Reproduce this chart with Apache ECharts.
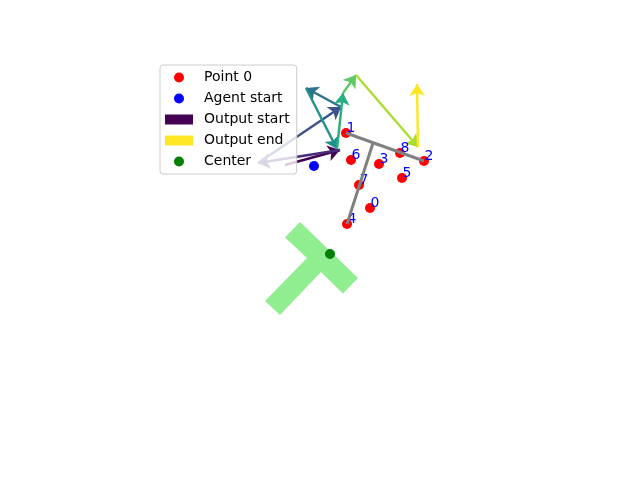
<!DOCTYPE html>
<html><head><meta charset="utf-8">
<script src="https://cdn.jsdelivr.net/npm/echarts@6/dist/echarts.min.js"></script>
<style>html,body{margin:0;padding:0;background:#fff}#c{width:640px;height:480px}</style>
</head><body><div id="c"></div>
<script>
// Keypoints (red) with their labels
const pointLabels = ['0','1','2','3','4','5','6','7','8'];
const pointX = [29.0, 26.6, 34.4, 29.9, 26.7, 32.2, 27.1, 27.9, 32.0];
const pointY = [21.9, 29.4, 26.6, 26.3, 20.3, 24.9, 26.7, 24.2, 27.4];
// Agent start and center
const agentStart = [23.4, 26.1];
const centerPt = [25.0, 17.3];
// Output path (arrows go from point i to point i+1)
const pathX = [20.5, 26.0, 17.8, 26.1, 22.6, 25.7, 26.3, 27.6, 33.8, 33.7];
const pathY = [26.2, 27.7, 26.4, 32.0, 33.9, 27.8, 33.4, 35.2, 28.0, 34.3];
// Gray skeleton segments: [x1, y1, x2, y2]
const skelX1 = [26.6, 29.3];
const skelY1 = [29.4, 28.4];
const skelX2 = [34.4, 26.7];
const skelY2 = [26.6, 20.3];
// Green T-shaped region outline
const shapeX = [22.0, 27.8, 26.3, 24.1, 20.0, 18.5, 22.7, 20.5];
const shapeY = [20.5, 14.9, 13.35, 15.5, 11.2, 12.6, 16.9, 18.95];

const viridis = ['#440154','#472c7a','#3b528b','#2c728e','#21918c','#28ae80','#5ec962','#addc30','#fde725'];

const arrows = [];
for (let i = 0; i < pathX.length - 1; i++) {
  arrows.push({
    coords: [[pathX[i], pathY[i]], [pathX[i+1], pathY[i+1]]],
    lineStyle: { color: viridis[i] }
  });
}
const skel = skelX1.map((x, i) => ({ coords: [[x, skelY1[i]], [skelX2[i], skelY2[i]]] }));
const redPts = pointX.map((x, i) => ({ value: [x, pointY[i]], name: pointLabels[i] }));

const chart = echarts.init(document.getElementById('c'), null, { renderer: 'canvas' });
chart.setOption({
  animation: false,
  backgroundColor: '#ffffff',
  grid: { left: 80, top: 57, width: 500, height: 370 },
  xAxis: { type: 'value', min: 0, max: 50, show: false },
  yAxis: { type: 'value', min: 0, max: 37, show: false },
  legend: {
    orient: 'vertical', left: 160, top: 65,
    padding: [4, 7, 4, 5], itemGap: 4, itemWidth: 28, itemHeight: 10,
    backgroundColor: 'rgba(255,255,255,0.8)', borderColor: '#cccccc', borderWidth: 1, borderRadius: 3,
    selectedMode: false,
    textStyle: { fontFamily: 'DejaVu Sans', fontSize: 14, color: '#000', lineHeight: 17, padding: [0, 0, 0, 6] },
    data: [
      { name: 'Point 0', icon: 'circle' },
      { name: 'Agent start', icon: 'circle' },
      { name: 'Output start', icon: 'rect' },
      { name: 'Output end', icon: 'rect' },
      { name: 'Center', icon: 'circle' }
    ]
  },
  series: [
    {
      type: 'custom', name: 'shape', z: 1, silent: true,
      data: [[0]],
      renderItem: function (params, api) {
        const pts = shapeX.map((x, i) => api.coord([x, shapeY[i]]));
        return { type: 'polygon', shape: { points: pts }, style: { fill: '#90ee90', stroke: null } };
      }
    },
    {
      type: 'lines', name: 'arrows', coordinateSystem: 'cartesian2d', z: 3,
      symbol: ['none', 'arrow'], symbolSize: [8, 12],
      lineStyle: { width: 2.4, opacity: 1, curveness: 0 },
      data: arrows
    },
    {
      type: 'scatter', name: 'Point 0', z: 4, symbol: 'circle', symbolSize: 10,
      itemStyle: { color: '#ff0000', opacity: 1 },
      label: { show: true, position: 'inside', offset: [5, -5], formatter: p => p.name,
        color: '#0000ff', fontFamily: 'DejaVu Sans', fontSize: 14 },
      data: redPts
    },
    {
      type: 'lines', name: 'skeleton', coordinateSystem: 'cartesian2d', z: 5,
      symbol: ['none', 'none'],
      lineStyle: { width: 3, color: '#808080', opacity: 1 },
      data: skel
    },
    {
      type: 'scatter', name: 'Agent start', z: 4, symbol: 'circle', symbolSize: 10,
      itemStyle: { color: '#0000ff', opacity: 1 }, data: [agentStart]
    },
    {
      type: 'scatter', name: 'Center', z: 4, symbol: 'circle', symbolSize: 10,
      itemStyle: { color: '#008000', opacity: 1 }, data: [centerPt]
    },
    { type: 'scatter', name: 'Output start', itemStyle: { color: '#440154', opacity: 1 }, data: [] },
    { type: 'scatter', name: 'Output end', itemStyle: { color: '#fde725', opacity: 1 }, data: [] }
  ]
});
</script></body></html>
